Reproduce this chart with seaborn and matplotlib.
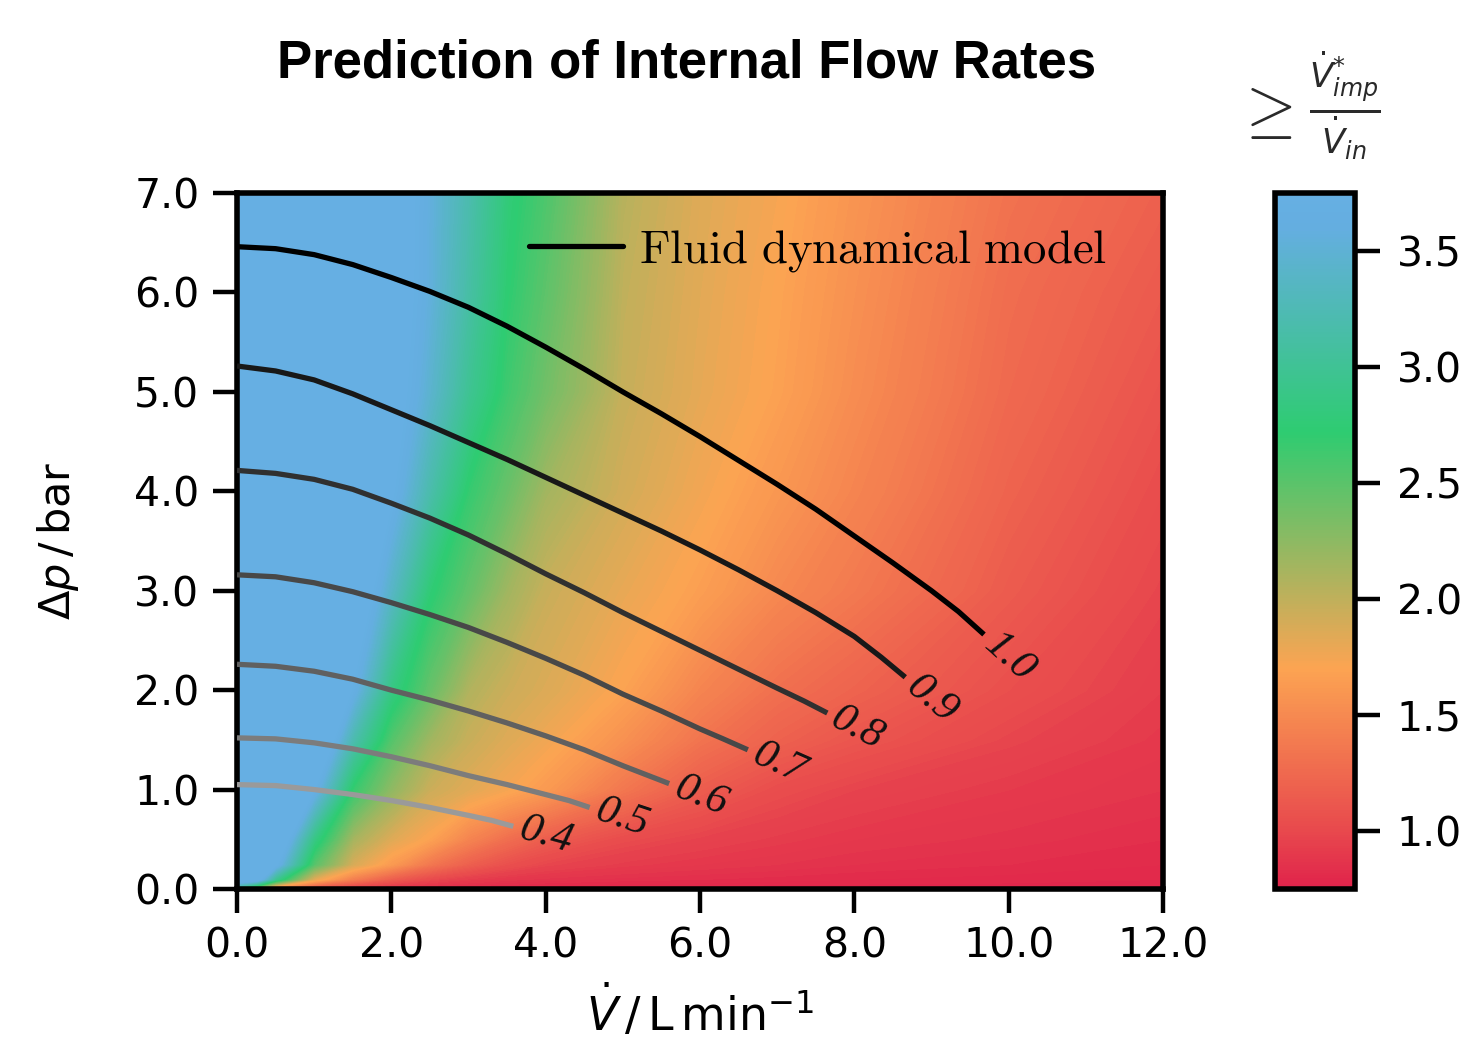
import numpy as np
import pandas as pd
import matplotlib
matplotlib.use("Agg")
import matplotlib.pyplot as plt
import seaborn as sns
from matplotlib.colors import LinearSegmentedColormap, Normalize
from matplotlib.font_manager import FontProperties
from matplotlib.lines import Line2D
import matplotlib.cm as cm

# colour field: ratio V_imp* / V_in on a coarse grid
flow_nodes = [0, 0.25, 0.5, 1, 1.5, 2, 2.5, 3, 3.5, 4, 5, 6, 7, 8, 10, 12]
dp_nodes = [0, 0.03, 0.1, 0.25, 0.5, 1, 1.5, 2, 3, 4, 5, 6, 7]
ratio_dp_0 = [2.7, 1.9, 1.4, 1.05, 0.92, 0.85, 0.82, 0.80, 0.79, 0.78, 0.78, 0.77, 0.77, 0.77, 0.76, 0.76]
ratio_dp_003 = [3.2, 2.6, 1.7, 1.2, 1.0, 0.9, 0.85, 0.82, 0.81, 0.80, 0.79, 0.79, 0.78, 0.78, 0.78, 0.77]
ratio_dp_01 = [4.0, 3.9, 2.95, 1.8, 1.4, 1.15, 1.0, 0.92, 0.88, 0.86, 0.84, 0.83, 0.82, 0.81, 0.80, 0.79]
ratio_dp_025 = [4.5, 4.1, 3.75, 2.5, 1.88, 1.62, 1.35, 1.17, 1.05, 0.98, 0.92, 0.89, 0.87, 0.85, 0.83, 0.81]
ratio_dp_05 = [5.0, 4.7, 4.1, 2.85, 2.12, 1.84, 1.68, 1.45, 1.28, 1.15, 1.02, 0.96, 0.92, 0.89, 0.86, 0.83]
ratio_dp_1 = [5.0, 4.9, 4.6, 3.7, 2.67, 2.23, 1.94, 1.83, 1.73, 1.62, 1.35, 1.15, 1.03, 0.97, 0.91, 0.87]
ratio_dp_15 = [4.9, 4.85, 4.7, 4.2, 3.2, 2.52, 2.15, 1.96, 1.85, 1.76, 1.55, 1.33, 1.19, 1.10, 0.98, 0.90]
ratio_dp_2 = [4.9, 4.8, 4.7, 4.3, 3.68, 2.85, 2.43, 2.07, 1.94, 1.86, 1.69, 1.46, 1.30, 1.20, 1.05, 0.93]
ratio_dp_3 = [4.8, 4.75, 4.7, 4.5, 4.05, 3.38, 2.75, 2.45, 2.15, 1.96, 1.80, 1.66, 1.49, 1.37, 1.14, 0.98]
ratio_dp_4 = [4.7, 4.65, 4.6, 4.45, 4.2, 3.75, 3.17, 2.68, 2.42, 2.14, 1.91, 1.75, 1.60, 1.46, 1.20, 1.03]
ratio_dp_5 = [4.6, 4.55, 4.5, 4.4, 4.15, 3.88, 3.45, 2.98, 2.63, 2.38, 1.97, 1.81, 1.68, 1.52, 1.25, 1.08]
ratio_dp_6 = [4.6, 4.55, 4.5, 4.4, 4.15, 3.92, 3.55, 3.12, 2.72, 2.48, 2.0, 1.83, 1.70, 1.55, 1.28, 1.13]
ratio_dp_7 = [4.6, 4.55, 4.5, 4.4, 4.2, 3.94, 3.56, 3.19, 2.78, 2.56, 2.04, 1.85, 1.73, 1.58, 1.32, 1.18]

# fluid dynamical model curves (flow in L/min, pressure drop in bar)
model_levels = ["0.4", "0.5", "0.6", "0.7", "0.8", "0.9", "1.0"]
v_04 = [0, 0.5, 1, 1.5, 2, 2.5, 3, 3.3, 3.58]
dp_04 = [1.05, 1.04, 1.0, 0.95, 0.89, 0.82, 0.74, 0.69, 0.63]
v_05 = [0, 0.5, 1, 1.5, 2, 2.5, 3, 3.5, 4, 4.3, 4.57]
dp_05 = [1.52, 1.51, 1.47, 1.41, 1.33, 1.24, 1.14, 1.05, 0.95, 0.89, 0.82]
v_06 = [0, 0.5, 1, 1.5, 2, 2.5, 3, 3.5, 4, 4.5, 5, 5.3, 5.6]
dp_06 = [2.26, 2.24, 2.19, 2.11, 2.0, 1.90, 1.79, 1.67, 1.54, 1.40, 1.24, 1.15, 1.06]
v_07 = [0, 0.5, 1, 1.5, 2, 2.5, 3, 3.5, 4, 4.5, 5, 5.5, 6, 6.3, 6.62]
dp_07 = [3.16, 3.14, 3.08, 2.99, 2.88, 2.76, 2.63, 2.48, 2.32, 2.15, 1.96, 1.79, 1.61, 1.51, 1.40]
v_08 = [0, 0.5, 1, 1.5, 2, 2.5, 3, 3.5, 4, 4.5, 5, 5.5, 6, 6.5, 7, 7.35, 7.65]
dp_08 = [4.21, 4.18, 4.12, 4.02, 3.88, 3.73, 3.56, 3.37, 3.17, 2.98, 2.78, 2.59, 2.40, 2.21, 2.02, 1.89, 1.77]
v_09 = [0, 0.5, 1, 1.5, 2, 2.5, 3, 3.5, 4, 4.5, 5, 5.5, 6, 6.5, 7, 7.5, 8, 8.35, 8.66]
dp_09 = [5.26, 5.21, 5.12, 4.98, 4.82, 4.66, 4.49, 4.32, 4.14, 3.96, 3.78, 3.60, 3.41, 3.21, 3.0, 2.78, 2.54, 2.33, 2.13]
v_10 = [0, 0.5, 1, 1.5, 2, 2.5, 3, 3.5, 4, 4.5, 5, 5.5, 6, 6.5, 7, 7.5, 8, 8.5, 9, 9.35, 9.68]
dp_10 = [6.46, 6.44, 6.38, 6.28, 6.15, 6.01, 5.85, 5.66, 5.45, 5.23, 5.0, 4.78, 4.55, 4.31, 4.07, 3.82, 3.55, 3.28, 3.0, 2.79, 2.56]
line_greys = ["#9a9a9a", "#7c7c7c", "#606060", "#484848", "#303030", "#181818", "#000000"]

x_ticks = [0, 2, 4, 6, 8, 10, 12]
y_ticks = [0, 1, 2, 3, 4, 5, 6, 7]
cbar_ticks = [1.0, 1.5, 2.0, 2.5, 3.0, 3.5]

sns.set_style("ticks")
plt.rcParams["font.family"] = ["DejaVu Sans"]
plt.rcParams["text.color"] = "black"
plt.rcParams["axes.labelcolor"] = "black"

# colour scale of the ratio
vmin, vmax = 0.75, 3.75
stops = [(0.75, "#e0234b"), (1.0, "#e8494d"), (1.7, "#fca452"),
         (2.72, "#2ecc71"), (3.6, "#64aee0"), (3.75, "#66afe3")]
cmap = LinearSegmentedColormap.from_list(
    "flow", [((v - vmin) / (vmax - vmin), c) for v, c in stops])
cmap.set_over("#66afe3")
cmap.set_under("#e0234b")
norm = Normalize(vmin, vmax)

fig = plt.figure(figsize=(14.69, 10.43), dpi=100)
ax = fig.add_axes([237 / 1469, 1 - 889 / 1043, 926 / 1469, 696 / 1043])
cax = fig.add_axes([1275 / 1469, 1 - 889 / 1043, 80 / 1469, 696 / 1043])

ratio = np.array([ratio_dp_0, ratio_dp_003, ratio_dp_01, ratio_dp_025, ratio_dp_05,
                  ratio_dp_1, ratio_dp_15, ratio_dp_2, ratio_dp_3, ratio_dp_4,
                  ratio_dp_5, ratio_dp_6, ratio_dp_7])
cs = ax.contourf(flow_nodes, dp_nodes, ratio, levels=np.linspace(vmin, vmax, 151),
                 cmap=cmap, norm=norm, extend="both")
cs.set_edgecolor("face")
cs.set_linewidth(0.6)

ax.set_xlim(0, 12)
ax.set_ylim(0, 7)

rows = []
all_v = [v_04, v_05, v_06, v_07, v_08, v_09, v_10]
all_dp = [dp_04, dp_05, dp_06, dp_07, dp_08, dp_09, dp_10]
for lev, xs, ys in zip(model_levels, all_v, all_dp):
    for x, y in zip(xs, ys):
        rows.append({"level": lev, "V": x, "dp": y})
lines_df = pd.DataFrame(rows)
sns.lineplot(data=lines_df, x="V", y="dp", hue="level",
             palette=dict(zip(model_levels, line_greys)), sort=False,
             estimator=None, legend=False, lw=3.8, ax=ax, zorder=3)
for ln in ax.get_lines():
    ln.set_linewidth(3.8)
    ln.set_solid_capstyle("butt")
    ln.set_solid_joinstyle("round")

# labels at the end of each curve, along its direction
for lev, xs, ys in zip(model_levels, all_v, all_dp):
    p0 = ax.transData.transform((xs[-2], ys[-2]))
    p1 = ax.transData.transform((xs[-1], ys[-1]))
    ang = np.arctan2(p1[1] - p0[1], p1[0] - p0[0])
    ax.annotate(lev, xy=(xs[-1], ys[-1]),
                xytext=(5 * np.cos(ang), 5 * np.sin(ang)), textcoords="offset points",
                rotation=np.degrees(ang), rotation_mode="anchor", ha="left", va="center",
                fontsize=31, family="Liberation Serif", style="italic", color="#111111",
                zorder=4)

leg = ax.legend(handles=[Line2D([0], [0], color="black", lw=3.8)],
                labels=[r"$\mathrm{Fluid\ dynamical\ model}$"],
                loc="upper right", bbox_to_anchor=(0.960, 0.978), frameon=False,
                prop=FontProperties(size=33.7, math_fontfamily="cm"),
                handlelength=2.0, handletextpad=0.35, borderaxespad=0)
for t in leg.get_texts():
    t.set_color("black")

ax.set_xticks(x_ticks)
ax.set_yticks(y_ticks)
ax.set_xticklabels([f"{t:.1f}" for t in x_ticks])
ax.set_yticklabels([f"{t:.1f}" for t in y_ticks])
ax.tick_params(direction="out", length=17, width=3.2, pad=10, labelsize=29.5,
               colors="black")
for sp in ax.spines.values():
    sp.set_linewidth(4.0)
    sp.set_color("black")
    sp.set_visible(True)
ax.set_xlabel(r"$\dot{V}\,/\,\mathrm{L\,min}^{-1}$", fontsize=33, labelpad=13)
ax.set_ylabel(r"$\Delta p\,/\,\mathrm{bar}$", fontsize=31, labelpad=38)

cb = fig.colorbar(cm.ScalarMappable(norm=norm, cmap=cmap), cax=cax)
cb.set_ticks(cbar_ticks)
cb.set_ticklabels([f"{t:.1f}" for t in cbar_ticks])
cb.outline.set_linewidth(4.0)
cb.outline.set_edgecolor("black")
cax.tick_params(direction="out", length=18, width=3.2, pad=12, labelsize=29.5,
                colors="black")

fig.text(1263 / 1469, 1 - 112 / 1043, r"$\geq$", fontsize=47, ha="center",
         va="center", color="#2a2a2a", math_fontfamily="cm")
fig.text(1345 / 1469, 1 - 106 / 1043, r"$\frac{\dot{V}^{*}_{imp}}{\dot{V}_{in}}$",
         fontsize=35, ha="center", va="center", color="#2a2a2a")

fig.text(687 / 1469, 1 - 64 / 1043, "Prediction of Internal Flow Rates",
         fontsize=38, fontweight="bold", family="Liberation Sans",
         ha="center", va="center", color="black")

fig.savefig("out.png", dpi=100, facecolor="white")
